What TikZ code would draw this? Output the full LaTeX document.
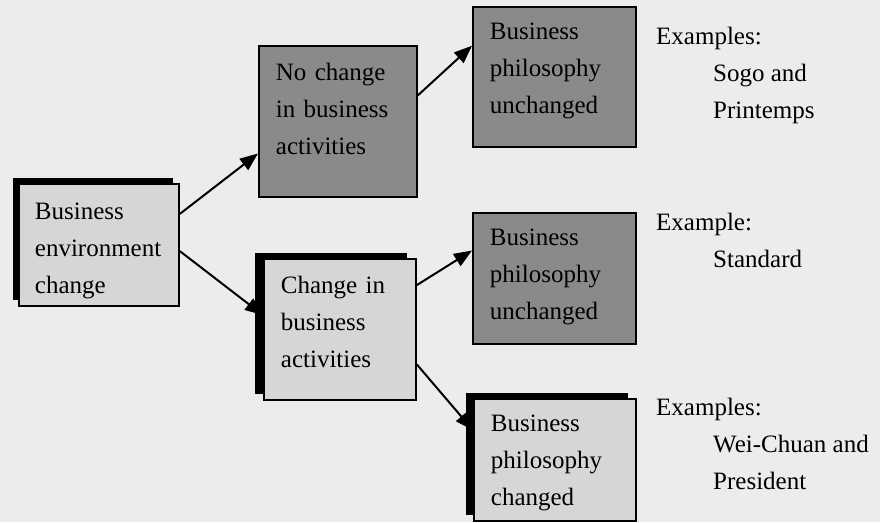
\documentclass[tikz,border=0pt]{standalone}
\usepackage{fontspec}
\setmainfont{Liberation Serif}
\usetikzlibrary{calc}
\usetikzlibrary{arrows.meta}
\usetikzlibrary{shadows}

\definecolor{bggray}{RGB}{236,236,236}
\definecolor{boxlite}{RGB}{214,214,214}
\definecolor{boxdark}{RGB}{138,138,138}

\begin{document}
\begin{tikzpicture}[x=1pt,y=-1pt,
  box/.style={draw=black, line width=1.8pt, anchor=north west, inner xsep=17pt, inner ysep=0pt,
    align=left, font=\fontsize{25}{37}\selectfont, text height=33pt, text depth=#1},
  litebox/.style={box=#1, fill=boxlite},
  darkbox/.style={box=#1, fill=boxdark},
  blackshadow/.style={drop shadow={shadow xshift=#1, shadow yshift=6pt, fill=black, opacity=1}},
  arr/.style={black, line width=2pt, -{Triangle[length=18pt,width=14pt]}},
  note/.style={anchor=base west, inner sep=0pt, align=left, font=\fontsize{25}{37}\selectfont}]
\fill[bggray] (0,0) rectangle (880,522);
\useasboundingbox (0,0) rectangle (880,522);

\node[litebox=86pt, text height=36pt, blackshadow=-6pt, text width=128pt, inner xsep=16pt] (env) at (18,183) {Business\\environment\\change};
\node[darkbox=116pt, text height=35pt, text width=124pt] (nochg) at (258,45) {No change\\in business\\activities};
\node[litebox=106pt, text height=35pt, blackshadow=-9pt, text width=118pt] (chg) at (263,258) {Change in\\business\\activities};
\node[darkbox=107pt, text width=129pt] (phil1) at (472,6) {Business\\philosophy\\unchanged};
\node[darkbox=98pt, text width=129pt] (phil2) at (472,212) {Business\\philosophy\\unchanged};
\node[litebox=89pt, blackshadow=-8pt, text width=128pt] (phil3) at (473,398) {Business\\philosophy\\changed};

\draw[arr] ($(env.north east)!0.25!(env.south east)$) -- ($(nochg.north west)!0.71!(nochg.south west)$);
\draw[arr] ($(env.north east)!0.55!(env.south east)$) -- ($(chg.north west)!0.40!(chg.south west)$);
\draw[arr] ($(nochg.north east)!0.33!(nochg.south east)$) -- ($(phil1.north west)!0.28!(phil1.south west)$);
\draw[arr] ($(chg.north east)!0.19!(chg.south east)$) -- ($(phil2.north west)!0.29!(phil2.south west)$);
\draw[arr] ($(chg.north east)!0.745!(chg.south east)$) -- ($(phil3.north west)!0.26!(phil3.south west)$);

\node[note] (ex1) at (656,118) {Examples:\\\hspace*{57pt}Sogo and\\\hspace*{57pt}Printemps};
\node[note] (ex2) at (656,267) {Example:\\\hspace*{57pt}Standard};
\node[note] (ex3) at (656,489) {Examples:\\\hspace*{57pt}Wei-Chuan and\\\hspace*{57pt}President};
\end{tikzpicture}
\end{document}
